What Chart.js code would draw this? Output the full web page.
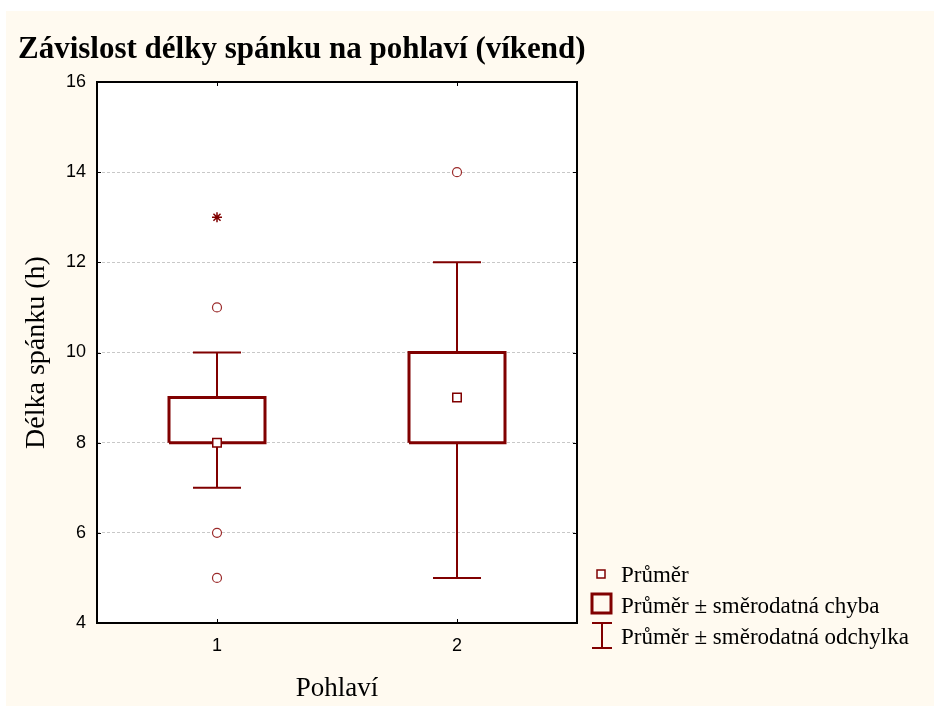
<!DOCTYPE html>
<html>
<head>
<meta charset="utf-8">
<script src="https://cdn.jsdelivr.net/npm/chart.js@4.4.0/dist/chart.umd.min.js"></script>
<style>
  html, body { margin: 0; padding: 0; background: #fff; }
</style>
</head>
<body>
<canvas id="chart" width="934" height="706"></canvas>
<script>
// Values
const categories = ['1', '2'];
const means = [8, 9];
const boxLow = [8, 8];
const boxHigh = [9, 10];
const whiskerLow = [7, 5];
const whiskerHigh = [10, 12];
const outliers = [[11, 6, 5], [14]];
const extremes = [[13], []];
const yTicks = [4, 6, 8, 10, 12, 14, 16];

const titleText = 'Závislost délky spánku na pohlaví (víkend)';
const legendLabels = ['Průměr', 'Průměr ± směrodatná chyba', 'Průměr ± směrodatná odchylka'];

const RED = '#800000';
const BOX_HALF = 0.2;   // box half width in category units
const CAP_HALF = 0.1;   // whisker cap half width
const SERIF = "'Liberation Serif', 'Times New Roman', serif";
const SANS = "'Liberation Sans', Arial, sans-serif";

// build line datasets for boxes and whiskers from the arrays
let boxData = [], whiskerData = [], meanData = [], outData = [], extData = [];
categories.forEach(function(c, i) {
    let x = i + 1;
    boxData.push({x: x - BOX_HALF, y: boxLow[i]}, {x: x + BOX_HALF, y: boxLow[i]},
                 {x: x + BOX_HALF, y: boxHigh[i]}, {x: x - BOX_HALF, y: boxHigh[i]},
                 {x: x - BOX_HALF, y: boxLow[i]}, {x: x, y: null});
    whiskerData.push({x: x - CAP_HALF, y: whiskerHigh[i]}, {x: x + CAP_HALF, y: whiskerHigh[i]}, {x: x, y: null},
                     {x: x, y: whiskerHigh[i]}, {x: x, y: boxHigh[i]}, {x: x, y: null},
                     {x: x, y: boxLow[i]}, {x: x, y: whiskerLow[i]}, {x: x, y: null},
                     {x: x - CAP_HALF, y: whiskerLow[i]}, {x: x + CAP_HALF, y: whiskerLow[i]}, {x: x, y: null});
    meanData.push({x: x, y: means[i]});
    outliers[i].forEach(function(v) { outData.push({x: x, y: v}); });
    extremes[i].forEach(function(v) { extData.push({x: x, y: v}); });
});

// backgrounds, frame, inner ticks, title and legend
const decor = {
    id: 'decor',
    beforeDraw: function(chart) {
        const ctx = chart.ctx, a = chart.chartArea;
        ctx.save();
        ctx.fillStyle = '#ffffff';
        ctx.fillRect(0, 0, chart.width, chart.height);
        ctx.fillStyle = '#fffaf0';
        ctx.fillRect(6, 11, chart.width - 6, chart.height - 11);
        ctx.fillStyle = '#ffffff';
        ctx.fillRect(a.left, a.top, a.right - a.left, a.bottom - a.top);
        ctx.restore();
    },
    afterDraw: function(chart) {
        const ctx = chart.ctx, a = chart.chartArea;
        const xs = chart.scales.x, ys = chart.scales.y;
        ctx.save();
        ctx.strokeStyle = '#000';
        ctx.lineWidth = 2;
        ctx.strokeRect(a.left, a.top, a.right - a.left, a.bottom - a.top);

        // small inward tick marks
        ctx.lineWidth = 1;
        ctx.beginPath();
        yTicks.forEach(function(v) {
            let py = Math.round(ys.getPixelForValue(v)) + 0.5;
            ctx.moveTo(a.left, py); ctx.lineTo(a.left + 4, py);
            ctx.moveTo(a.right, py); ctx.lineTo(a.right - 4, py);
        });
        categories.forEach(function(c, i) {
            let px = Math.round(xs.getPixelForValue(i + 1)) + 0.5;
            ctx.moveTo(px, a.bottom); ctx.lineTo(px, a.bottom - 4);
            ctx.moveTo(px, a.top); ctx.lineTo(px, a.top + 4);
        });
        ctx.stroke();

        // title
        ctx.fillStyle = '#000';
        ctx.font = 'bold 31px ' + SERIF;
        ctx.textAlign = 'left';
        ctx.textBaseline = 'alphabetic';
        ctx.fillText(titleText, 18, 58);

        // legend
        ctx.strokeStyle = RED;
        ctx.fillStyle = '#fff';
        ctx.lineWidth = 1.5;
        ctx.fillRect(597, 570, 8, 8);
        ctx.strokeRect(597, 570, 8, 8);
        ctx.lineWidth = 3;
        ctx.strokeRect(592, 594, 19, 19);
        ctx.lineWidth = 2;
        ctx.beginPath();
        ctx.moveTo(592, 623); ctx.lineTo(612, 623);
        ctx.moveTo(602, 623); ctx.lineTo(602, 648);
        ctx.moveTo(592, 648); ctx.lineTo(612, 648);
        ctx.stroke();

        ctx.fillStyle = '#000';
        ctx.font = '23px ' + SERIF;
        ctx.fillText(legendLabels[0], 621, 582);
        ctx.fillText(legendLabels[1], 621, 613);
        ctx.fillText(legendLabels[2], 621, 644);
        ctx.restore();
    }
};

new Chart(document.getElementById('chart'), {
    type: 'scatter',
    data: {
        datasets: [
            {   // means
                data: meanData,
                pointStyle: 'rect',
                pointRadius: 6,
                pointBackgroundColor: '#fff',
                pointBorderColor: RED,
                pointBorderWidth: 1.5,
                showLine: false
            },
            {   // extreme values
                data: extData,
                pointStyle: 'star',
                pointRadius: 5,
                pointBorderColor: RED,
                pointBorderWidth: 1.5,
                showLine: false
            },
            {   // outliers
                data: outData,
                pointStyle: 'circle',
                pointRadius: 4.5,
                pointBackgroundColor: '#fff',
                pointBorderColor: '#9b2a2a',
                pointBorderWidth: 1.2,
                showLine: false
            },
            {   // boxes
                data: boxData,
                showLine: true,
                spanGaps: false,
                borderColor: RED,
                borderWidth: 3,
                pointRadius: 0,
                fill: false
            },
            {   // whiskers
                data: whiskerData,
                showLine: true,
                spanGaps: false,
                borderColor: RED,
                borderWidth: 2,
                pointRadius: 0,
                fill: false
            }
        ]
    },
    options: {
        responsive: false,
        animation: false,
        devicePixelRatio: 1,
        layout: { padding: { left: 0, top: 82, right: 357, bottom: 0 } },
        plugins: {
            legend: { display: false },
            tooltip: { enabled: false }
        },
        scales: {
            x: {
                type: 'linear',
                min: 0.5,
                max: 2.5,
                afterBuildTicks: function(scale) {
                    scale.ticks = categories.map(function(c, i) { return {value: i + 1}; });
                },
                afterFit: function(scale) { scale.height = 83; },
                grid: { display: false, drawTicks: false },
                border: { display: false },
                ticks: {
                    padding: 12,
                    color: '#000',
                    font: { family: SANS, size: 18 },
                    callback: function(v) { return categories[v - 1]; }
                },
                title: {
                    display: true,
                    text: 'Pohlaví',
                    color: '#000',
                    font: { family: SERIF, size: 27 },
                    padding: { top: 0, bottom: 1 }
                }
            },
            y: {
                min: 4,
                max: 16,
                afterBuildTicks: function(scale) {
                    scale.ticks = yTicks.map(function(v) { return {value: v}; });
                },
                afterFit: function(scale) { scale.width = 97; },
                grid: { color: '#c8c8c8', lineWidth: 1, drawTicks: false },
                border: { display: false, dash: [3, 2] },
                ticks: {
                    padding: 11,
                    color: '#000',
                    font: { family: SANS, size: 18 }
                },
                title: {
                    display: true,
                    text: 'Délka spánku (h)',
                    color: '#000',
                    font: { family: SERIF, size: 28 },
                    padding: { top: 20, bottom: 0 }
                }
            }
        }
    },
    plugins: [decor]
});
</script>
</body>
</html>
